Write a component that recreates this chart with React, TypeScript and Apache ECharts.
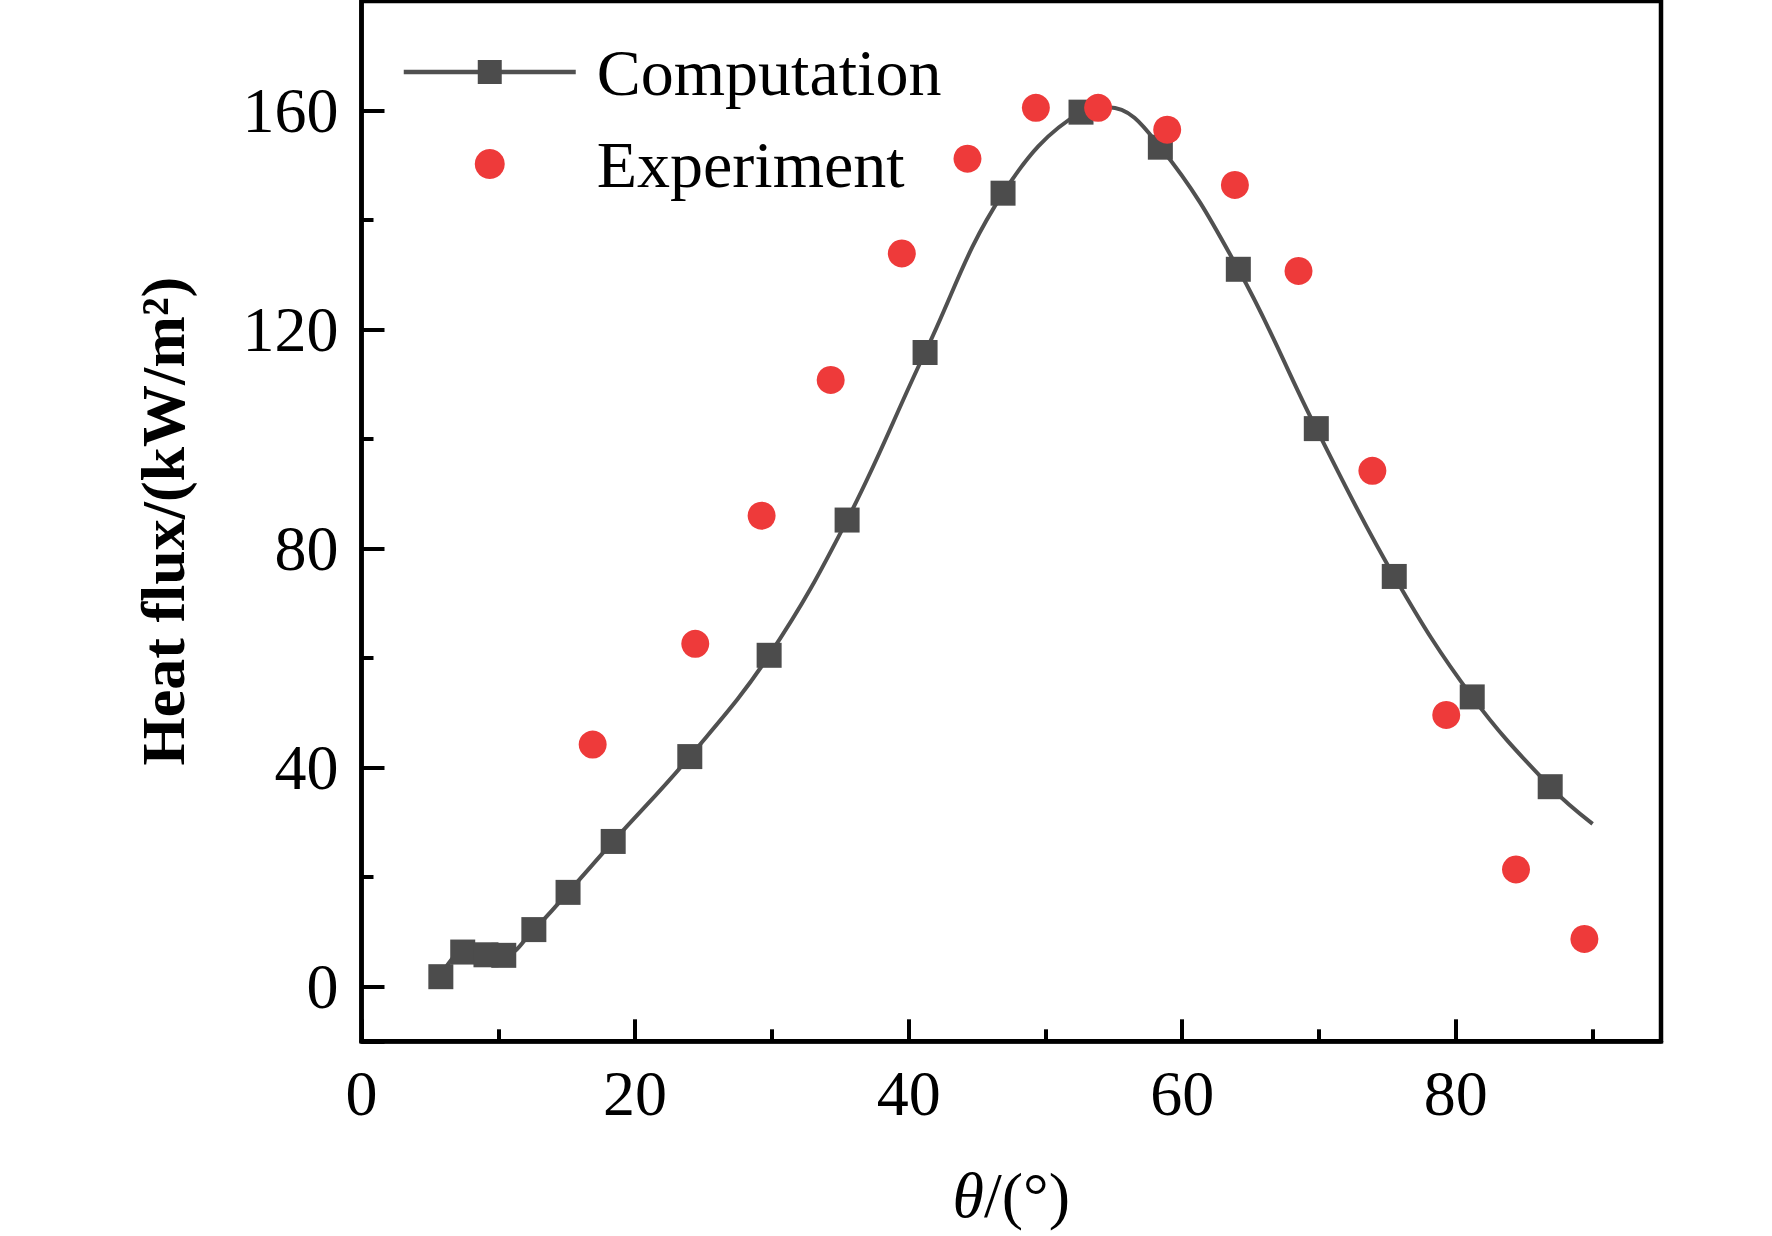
import React, { useEffect, useRef } from "react";
import * as echarts from "echarts";

// Computation: points carrying a square marker
const computationMarkers: number[][] = [
  [5.8, 1.8], [7.4, 6.3], [9.1, 5.8], [10.4, 5.7], [12.6, 10.4], [15.1, 17.2],
  [18.4, 26.5], [24.0, 42.0], [29.8, 60.5], [35.5, 85.2], [41.2, 115.8],
  [46.9, 144.9], [52.6, 159.7], [58.4, 153.3], [64.1, 131.0], [69.8, 101.9],
  [75.5, 74.9], [81.2, 52.9], [86.9, 36.5],
];
// Computation: curve points without a marker
const computationCurveOnly: number[][] = [
  [54.6, 160.6], [90.0, 29.7],
];
// Experiment points
const experimentX = [16.9, 24.4, 29.25, 34.3, 39.5, 44.3, 49.3, 53.85, 58.9, 63.85, 68.5, 73.9, 79.3, 84.4, 89.4];
const experimentY = [44.2, 62.6, 86.0, 110.8, 133.9, 151.2, 160.5, 160.5, 156.5, 146.4, 130.7, 94.2, 49.6, 21.4, 8.7];

// axis ranges and tick steps (labels: 0–80 every 20; 0–160 every 40)
const xRange = [0, 95];
const xMajorStep = 20;
const yRange = [-10, 180];
const yMajorStep = 40;

const FONT = "'Liberation Serif', 'Times New Roman', serif";

export default function App() {
  const ref = useRef<HTMLDivElement>(null);
  useEffect(() => {
    if (!ref.current) return;
    const chart = echarts.init(ref.current, undefined, { renderer: "svg" });

    const curve = [
      ...computationMarkers.map((p) => ({ value: p })),
      ...computationCurveOnly.map((p) => ({ value: p, symbol: "none" })),
    ].sort((a, b) => a.value[0] - b.value[0]);

    const experiment = experimentX.map((x, i) => [x, experimentY[i]]);

    const axisLineStyle = { color: "#000", width: 4.5 };
    const tickLine = { width: 4, color: "#000" };

    chart.setOption({
      animation: false,
      backgroundColor: "#fff",
      textStyle: { fontFamily: FONT },
      grid: {
        left: 361.5,
        right: 111,
        top: 1,
        bottom: 194.7,
        show: true,
        borderColor: "#000",
        borderWidth: 4.5,
        backgroundColor: "transparent",
      },
      legend: {
        orient: "vertical",
        left: 401.5,
        top: 39,
        padding: 0,
        itemWidth: 172,
        itemHeight: 30,
        itemGap: 26,
        lineStyle: { width: 4.5 },
        textStyle: { fontSize: 66, fontFamily: FONT, color: "#000", padding: [0, 0, 0, 16] },
        data: ["Computation", "Experiment"],
      },
      xAxis: {
        type: "value",
        min: xRange[0],
        max: xRange[1],
        minInterval: xMajorStep,
        maxInterval: xMajorStep,
        position: "bottom",
        axisLine: { show: true, onZero: false, lineStyle: axisLineStyle },
        axisTick: { show: true, inside: true, length: 22, lineStyle: tickLine },
        minorTick: { show: true, splitNumber: 2, length: 12, lineStyle: tickLine },
        axisLabel: { show: true, showMaxLabel: false, fontSize: 64, fontFamily: FONT, color: "#000", margin: 20 },
        splitLine: { show: false },
        minorSplitLine: { show: false },
        name: "{i|θ}/(°)",
        nameLocation: "middle",
        nameGap: 122,
        nameTextStyle: {
          fontSize: 64,
          fontFamily: FONT,
          color: "#000",
          rich: { i: { fontStyle: "italic", fontSize: 64, fontFamily: FONT, color: "#000" } },
        },
      },
      yAxis: {
        type: "value",
        min: yRange[0],
        max: yRange[1],
        minInterval: yMajorStep,
        maxInterval: yMajorStep,
        position: "left",
        axisLine: { show: true, onZero: false, lineStyle: axisLineStyle },
        axisTick: { show: true, inside: true, length: 23, lineStyle: tickLine },
        minorTick: { show: true, splitNumber: 2, length: 12, lineStyle: tickLine },
        axisLabel: { show: true, showMinLabel: false, showMaxLabel: false, fontSize: 64, fontFamily: FONT, color: "#000", margin: 23 },
        splitLine: { show: false },
        minorSplitLine: { show: false },
        name: "Heat flux/(kW/m²)",
        nameLocation: "middle",
        nameRotate: 90,
        nameGap: 168,
        nameTextStyle: { fontSize: 62, fontWeight: "bold", fontFamily: FONT, color: "#000" },
      },
      series: [
        {
          name: "Computation",
          type: "line",
          data: curve,
          smooth: 0.4,
          symbol: "rect",
          symbolSize: 25,
          showAllSymbol: true,
          lineStyle: { color: "#505050", width: 4 },
          itemStyle: { color: "#4c4c4c", opacity: 1 },
          z: 2,
        },
        {
          name: "Experiment",
          type: "scatter",
          data: experiment,
          symbol: "circle",
          symbolSize: 28,
          itemStyle: { color: "#EE3A3A", opacity: 1 },
          z: 3,
        },
      ],
    });
    return () => chart.dispose();
  }, []);

  return (
    <div
      ref={ref}
      style={{ position: "absolute", left: 0, top: 0, width: 1772, height: 1236 }}
    />
  );
}
